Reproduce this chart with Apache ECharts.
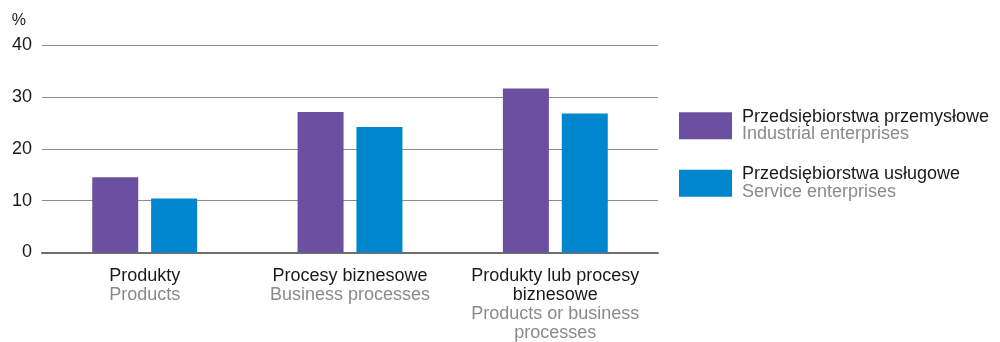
<!DOCTYPE html>
<html>
<head>
<meta charset="utf-8">
<script src="https://cdn.jsdelivr.net/npm/echarts@6/dist/echarts.min.js"></script>
<style>
  html, body { margin: 0; padding: 0; background: #fff; }
  #chart { width: 1000px; height: 342px; }
</style>
</head>
<body>
<div id="chart"></div>
<script>
// categories (Polish / English)
const categoriesPl = ['Produkty', 'Procesy biznesowe', 'Produkty lub procesy\nbiznesowe']
const categoriesEn = ['Products', 'Business processes', 'Products or business\nprocesses']

// series
const seriesPl = ['Przedsiębiorstwa przemysłowe', 'Przedsiębiorstwa usługowe']
const seriesEn = ['Industrial enterprises', 'Service enterprises']
const industrial = [14.5, 27.1, 31.6]
const services = [10.4, 24.2, 26.8]

const yTicks = [0, 10, 20, 30, 40]

const chart = echarts.init(document.getElementById('chart'))

const font = 'Liberation Sans, Arial, sans-serif'
const fs = 18

chart.setOption({
  animation: false,
  textStyle: { fontFamily: font },
  grid: {
    left: 42,
    right: 342,
    top: 45,
    bottom: 85,
    containLabel: false
  },
  legend: {
    orient: 'vertical',
    left: 674,
    top: 103,
    itemWidth: 53,
    itemHeight: 27,
    itemGap: 22,
    icon: 'rect',
    selectedMode: false,
    data: seriesPl,
    formatter: function (name) {
      const i = seriesPl.indexOf(name)
      return '{a|' + name + '}\n{b|' + seriesEn[i] + '}'
    },
    textStyle: {
      padding: [0, 0, 0, 5],
      rich: {
        a: { fontSize: fs, color: '#1a1a1a', fontFamily: font, lineHeight: 17.5 },
        b: { fontSize: fs, color: '#8a8a8a', fontFamily: font, lineHeight: 17.5 }
      }
    }
  },
  xAxis: {
    type: 'category',
    data: categoriesPl,
    axisTick: { show: false },
    axisLine: { lineStyle: { color: '#6e6e6e', width: 2 } },
    axisLabel: {
      margin: 14,
      interval: 0,
      formatter: function (value, idx) {
        const pl = value.split('\n').map(s => '{a|' + s + '}').join('\n')
        const en = categoriesEn[idx].split('\n').map(s => '{b|' + s + '}').join('\n')
        return pl + '\n' + en
      },
      rich: {
        a: { fontSize: fs, color: '#1a1a1a', fontFamily: font, lineHeight: 19 },
        b: { fontSize: fs, color: '#8a8a8a', fontFamily: font, lineHeight: 19 }
      }
    }
  },
  yAxis: {
    type: 'value',
    min: yTicks[0],
    max: yTicks[yTicks.length - 1],
    interval: 10,
    name: '%',
    nameLocation: 'end',
    nameGap: 16,
    nameTextStyle: { fontSize: 16, color: '#1a1a1a', align: 'right', padding: [0, 16, 0, 0] },
    axisLine: { show: false },
    axisTick: { show: false },
    axisLabel: { fontSize: fs, color: '#1a1a1a', margin: 10 },
    splitLine: { lineStyle: { color: '#8c8c8c', width: 1 } }
  },
  series: [
    {
      name: seriesPl[0],
      type: 'bar',
      barWidth: 46,
      barGap: '28%',
      itemStyle: { color: '#6b4fa0' },
      data: industrial
    },
    {
      name: seriesPl[1],
      type: 'bar',
      barWidth: 46,
      barGap: '28%',
      itemStyle: { color: '#0086cf' },
      data: services
    }
  ]
})
</script>
</body>
</html>
